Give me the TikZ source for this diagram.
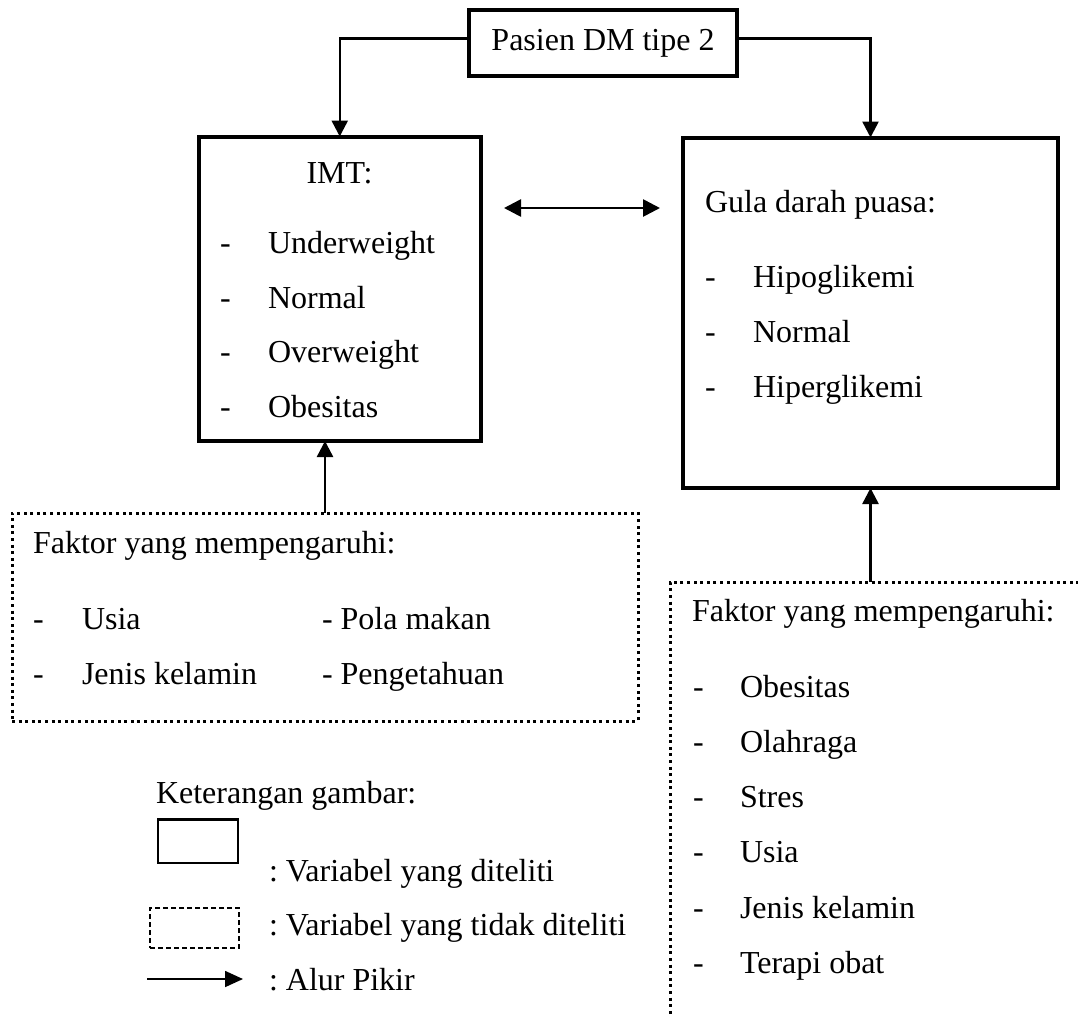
\documentclass[tikz,border=0pt]{standalone}
\usepackage{fontspec}
\setmainfont{Liberation Serif}
\usetikzlibrary{arrows.meta,calc}
\frenchspacing
\begin{document}
\begin{tikzpicture}[x=1pt,y=-1pt,
  every node/.style={font=\fontsize{32}{38}\selectfont, inner sep=0pt, outer sep=0pt},
  box/.style={draw, line width=4pt, anchor=north west},
  dotbox/.style={draw, line width=3pt, dash pattern=on 3pt off 3.6pt, anchor=north west},
  txt/.style={anchor=base west},
  arr/.style={line width=2.5pt, -{Triangle[length=16pt,width=16pt]}},
  biarr/.style={line width=2.7pt, {Triangle[length=17pt,width=17pt]}-{Triangle[length=17pt,width=17pt]}},
  legsolid/.style={draw, line width=2.6pt, anchor=north west},
  legdash/.style={draw, line width=1.4pt, dash pattern=on 5pt off 3pt, anchor=north west},
  legarr/.style={line width=1.7pt, -{Triangle[length=18pt,width=16pt]}},
]
\clip (0,0) rectangle (1078,1013);
\fill[white] (0,0) rectangle (1078,1013);

% top box
\node[box, minimum width=268pt, minimum height=66.5pt] (top) at (469,9.5) {};
\node[anchor=base] (toptxt) at (603,50) {Pasien DM tipe 2};

% IMT box
\node[box, minimum width=282.5pt, minimum height=304.5pt] (imt) at (198.5,136.5) {};
\node[anchor=base] (imttitle) at (339.5,183) {IMT:};
\node[txt] (id1) at (220,253) {-};
\node[txt] (it1) at (268,253) {Underweight};
\node[txt] (id2) at (220,308) {-};
\node[txt] (it2) at (268,308) {Normal};
\node[txt] (id3) at (220,362) {-};
\node[txt] (it3) at (268,362) {Overweight};
\node[txt] (id4) at (220,417) {-};
\node[txt] (it4) at (268,417) {Obesitas};

% Gula box
\node[box, minimum width=375pt, minimum height=350.5pt] (gula) at (683,137.5) {};
\node[txt] (gtitle) at (705,212) {Gula darah puasa:};
\node[txt] (gd1) at (705,287) {-};
\node[txt] (gt1) at (753,287) {Hipoglikemi};
\node[txt] (gd2) at (705,342) {-};
\node[txt] (gt2) at (753,342) {Normal};
\node[txt] (gd3) at (705,397) {-};
\node[txt] (gt3) at (753,397) {Hiperglikemi};

% left dotted box
\node[dotbox, minimum width=626pt, minimum height=208pt] (ldot) at (12,513) {};
\node[txt] (ltitle) at (33,553) {Faktor yang mempengaruhi:};
\node[txt] (ld1) at (33,629) {-};
\node[txt] (lt1) at (82,629) {Usia};
\node[txt] (lt2) at (322,629) {- Pola makan};
\node[txt] (ld3) at (33,684) {-};
\node[txt] (lt3) at (82,684) {Jenis kelamin};
\node[txt] (lt4) at (322,684) {- Pengetahuan};

% right dotted box (continues beyond the page)
\node[dotbox, minimum width=440pt, minimum height=460pt] (rdot) at (670,582) {};
\node[txt] (rtitle) at (692,621) {Faktor yang mempengaruhi:};
\node[txt] (rd1) at (693,697) {-};
\node[txt] (rt1) at (740,697) {Obesitas};
\node[txt] (rd2) at (693,752) {-};
\node[txt] (rt2) at (740,752) {Olahraga};
\node[txt] (rd3) at (693,807) {-};
\node[txt] (rt3) at (740,807) {Stres};
\node[txt] (rd4) at (693,862) {-};
\node[txt] (rt4) at (740,862) {Usia};
\node[txt] (rd5) at (693,918) {-};
\node[txt] (rt5) at (740,918) {Jenis kelamin};
\node[txt] (rd6) at (693,973) {-};
\node[txt] (rt6) at (740,973) {Terapi obat};

% connectors
\draw[arr] ($(top.west)+(0,-4.5)$) -| (imt.north);
\draw[arr] ($(top.east)+(0,-4.5)$) -| (gula.north);
\path (imt.north east) ++(0,71.5) coordinate (da1);
\path (gula.west |- da1) coordinate (da2);
\draw[biarr, shorten <=23pt, shorten >=23pt] (da1) -- (da2);
\draw[arr] (ldot.north) -- (ldot.north |- imt.south);
\draw[arr] (rdot.north west -| gula.south) -- (gula.south);

% legend
\node[txt] (ket) at (156,803) {Keterangan gambar:};
\node[legsolid, minimum width=80pt, minimum height=43.5pt] (lgs) at (158,819.5) {};
\node[txt] (lgst) at (269,881) {: Variabel yang diteliti};
\node[legdash, minimum width=89pt, minimum height=40pt] (lgd) at (150,908) {};
\node[txt] (lgdt) at (269,935) {: Variabel yang tidak diteliti};
\coordinate (la1) at (147,979);
\coordinate (la2) at (243,979);
\draw[legarr] (la1) -- (la2);
\node[txt] (lgat) at (269,990) {: Alur Pikir};
\end{tikzpicture}
\end{document}
